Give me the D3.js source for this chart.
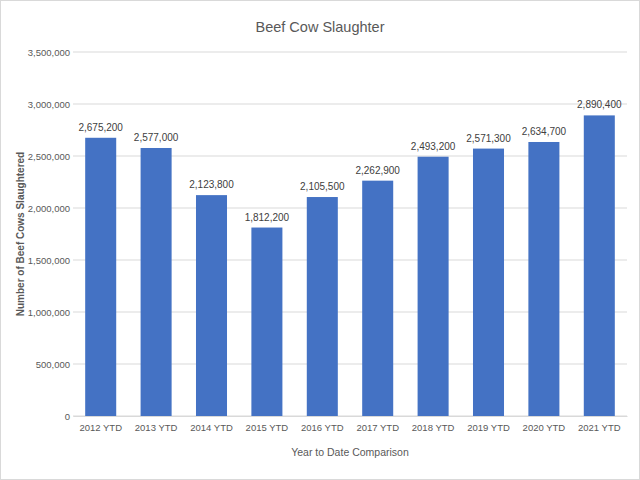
<!DOCTYPE html>
<html>
<head>
<meta charset="utf-8">
<script src="https://cdn.jsdelivr.net/npm/d3@7"></script>
<style>
  body { margin: 0; background: #fff; }
  text { font-family: "Liberation Sans", Arial, sans-serif; }
</style>
</head>
<body>
<svg id="chart" width="640" height="480"></svg>
<script>
const years = ["2012 YTD", "2013 YTD", "2014 YTD", "2015 YTD", "2016 YTD",
               "2017 YTD", "2018 YTD", "2019 YTD", "2020 YTD", "2021 YTD"];
const slaughter = [2675200, 2577000, 2123800, 1812200, 2105500,
                   2262900, 2493200, 2571300, 2634700, 2890400];
const yTicks = [0, 500000, 1000000, 1500000, 2000000, 2500000, 3000000, 3500000];

const svg = d3.select("#chart");
const margin = {top: 52, right: 13, bottom: 64, left: 73};
const width = 640 - margin.left - margin.right;
const height = 480 - margin.top - margin.bottom;
const fmt = d3.format(",");

// outer border
svg.append("rect")
    .attr("x", 0.5).attr("y", 0.5).attr("width", 639).attr("height", 479)
    .attr("fill", "none").attr("stroke", "#d9d9d9");

const g = svg.append("g").attr("transform", `translate(${margin.left},${margin.top})`);

const x = d3.scaleBand().domain(years).range([0, width]).paddingInner(0.44).paddingOuter(0.22);
const y = d3.scaleLinear().domain([0, 3500000]).range([height, 0]);

// gridlines
g.selectAll("line.grid")
    .data(yTicks)
    .join("line")
    .attr("class", "grid")
    .attr("x1", 0).attr("x2", width)
    .attr("y1", d => y(d)).attr("y2", d => y(d))
    .attr("stroke", "#d9d9d9");

// y axis labels
const yAxis = g.append("g").call(d3.axisLeft(y).tickValues(yTicks).tickFormat(fmt).tickSize(0).tickPadding(3));
yAxis.select(".domain").remove();
yAxis.selectAll("text").attr("fill", "#595959").style("font-size", "9.5px");

// x axis
const xAxis = g.append("g").attr("transform", `translate(0,${height})`)
    .call(d3.axisBottom(x).tickSize(0).tickPadding(8));
xAxis.select(".domain").attr("stroke", "#d9d9d9");
xAxis.selectAll("text").attr("fill", "#595959").style("font-size", "9.5px");

// bars
g.selectAll("rect.bar")
    .data(years)
    .join("rect")
    .attr("class", "bar")
    .attr("x", d => x(d))
    .attr("width", x.bandwidth())
    .attr("y", (d, i) => y(slaughter[i]))
    .attr("height", (d, i) => height - y(slaughter[i]))
    .attr("fill", "#4472c4");

// data labels
g.selectAll("text.lbl")
    .data(years)
    .join("text")
    .attr("class", "lbl")
    .attr("x", d => x(d) + x.bandwidth() / 2)
    .attr("y", (d, i) => y(slaughter[i]) - 7)
    .attr("text-anchor", "middle")
    .attr("fill", "#404040")
    .style("font-size", "10px")
    .text((d, i) => fmt(slaughter[i]));

// titles
svg.append("text")
    .attr("x", 320).attr("y", 32)
    .attr("text-anchor", "middle")
    .attr("fill", "#595959")
    .style("font-size", "14.5px")
    .text("Beef Cow Slaughter");

svg.append("text")
    .attr("x", margin.left + width / 2).attr("y", 456)
    .attr("text-anchor", "middle")
    .attr("fill", "#595959")
    .style("font-size", "10.5px")
    .text("Year to Date Comparison");

svg.append("text")
    .attr("transform", `translate(24,${margin.top + height / 2}) rotate(-90)`)
    .attr("text-anchor", "middle")
    .attr("fill", "#595959")
    .style("font-size", "10px")
    .style("font-weight", "bold")
    .text("Number of Beef Cows Slaughtered");
</script>
</body>
</html>
